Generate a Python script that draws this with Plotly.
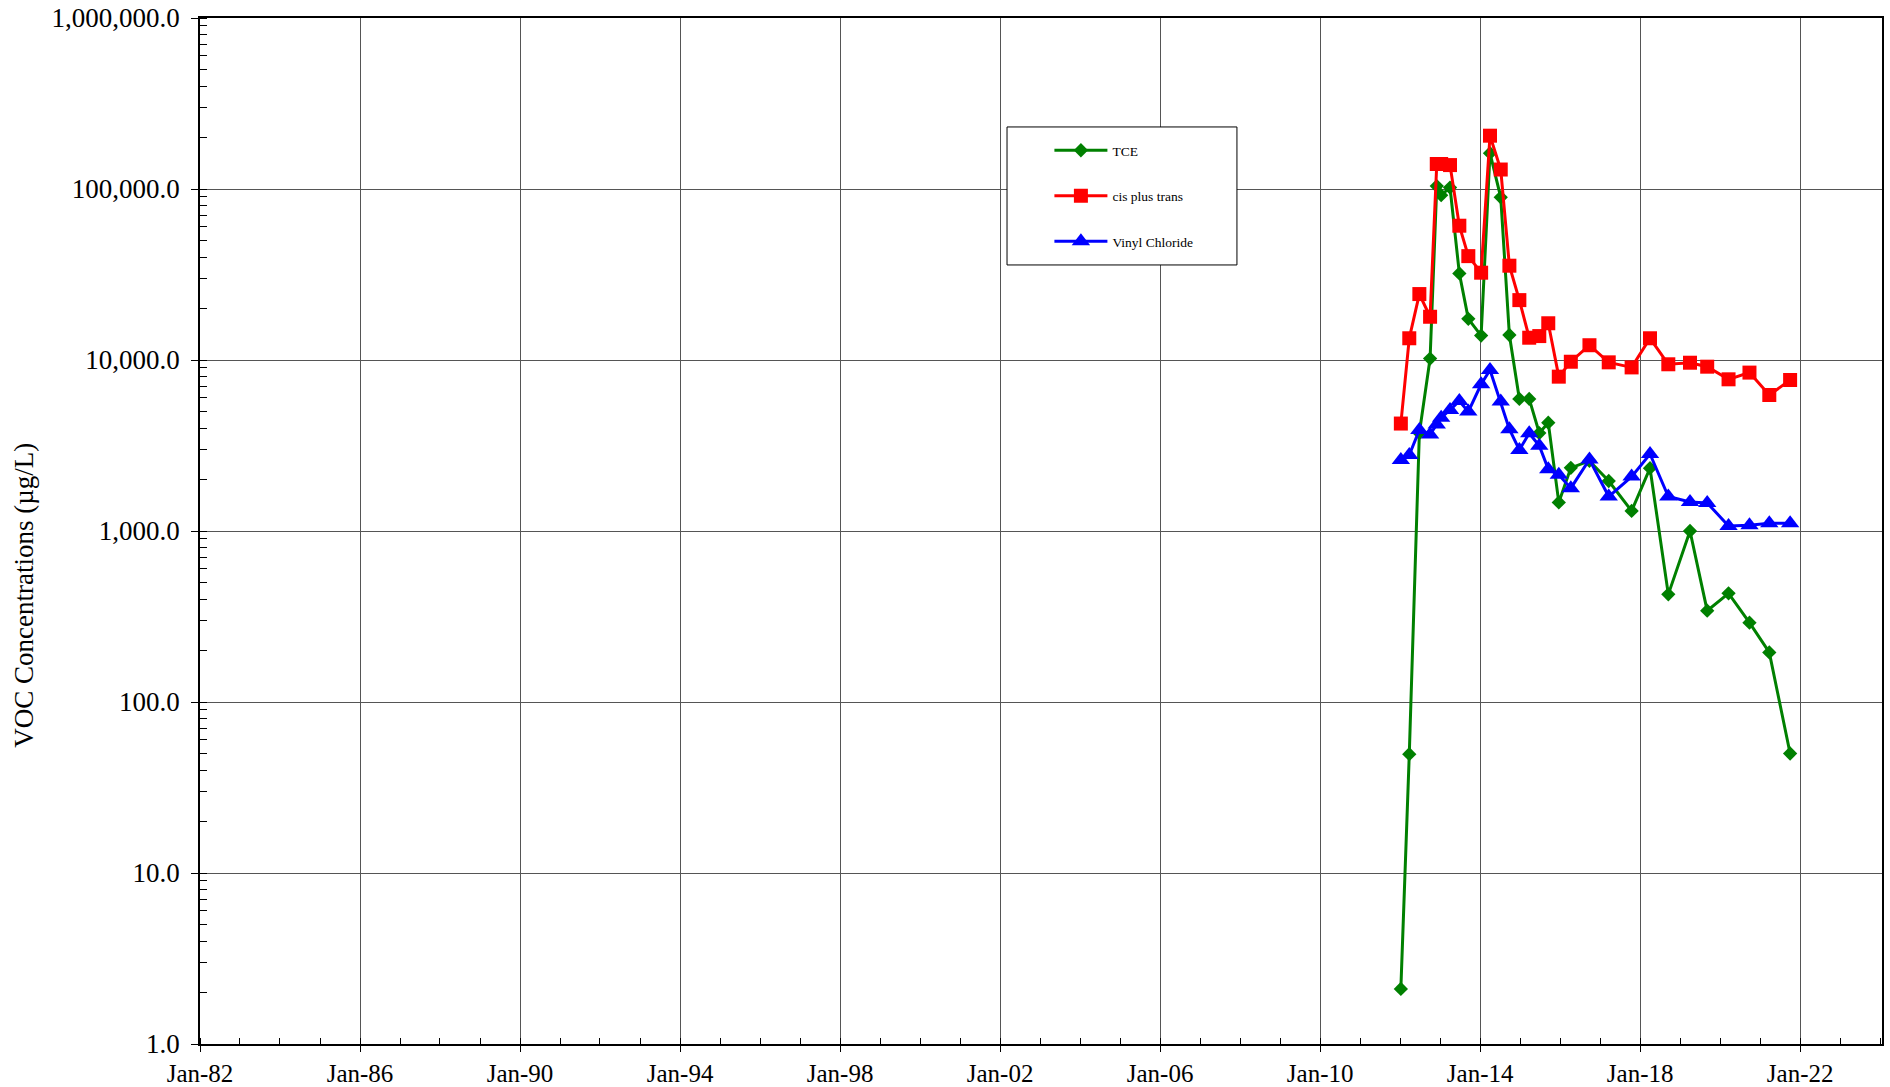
import plotly.graph_objects as go

dates = [
    "2012-01-08", "2012-03-25", "2012-06-25", "2012-10-01", "2012-12-01",
    "2013-01-10", "2013-04-01", "2013-06-25", "2013-09-15", "2014-01-10",
    "2014-04-01", "2014-07-08", "2014-09-25", "2014-12-25", "2015-03-25",
    "2015-06-25", "2015-09-15", "2015-12-20", "2016-04-08", "2016-09-25",
    "2017-03-20", "2017-10-15", "2018-04-01", "2018-09-15", "2019-04-01",
    "2019-09-05", "2020-03-18", "2020-09-25", "2021-03-25", "2021-10-01",
]

tce = [2.1, 49.5, 3740, 10200, 104000, 92000, 102000, 32100, 17400, 13900,
       162000, 89400, 14000, 5920, 5920, 3740, 4300, 1470, 2340, 2570,
       1960, 1310, 2330, 426, 1000, 342, 432, 291, 195, 50]

cis_trans = [4250, 13400, 24300, 17900, 140000, 140000, 138000, 61000, 40500, 32400,
             205000, 130000, 35600, 22400, 13500, 13800, 16400, 7990, 9770, 12200,
             9690, 9050, 13400, 9440, 9640, 9140, 7710, 8440, 6240, 7640]

vinyl = [2600, 2780, 3900, 3670, 4200, 4600, 5100, 5760, 4990, 7210,
         8750, 5710, 3940, 2980, 3730, 3150, 2300, 2130, 1780, 2620,
         1590, 2080, 2820, 1590, 1480, 1460, 1070, 1080, 1110, 1110]

y_ticks = [1, 10, 100, 1000, 10000, 100000, 1000000]

FONT = "Liberation Serif, Times New Roman, serif"

fig = go.Figure()
fig.add_trace(go.Scatter(x=dates, y=tce, name="TCE", mode="lines+markers",
                         legendgroup="a",
                         line=dict(color="#008000", width=3),
                         marker=dict(symbol="diamond", size=11, color="#008000")))
fig.add_trace(go.Scatter(x=dates, y=cis_trans, name="cis plus trans", mode="lines+markers",
                         legendgroup="b",
                         line=dict(color="#ff0000", width=3),
                         marker=dict(symbol="square", size=14, color="#ff0000")))
fig.add_trace(go.Scatter(x=dates, y=vinyl, name="Vinyl Chloride", mode="lines+markers",
                         legendgroup="c",
                         line=dict(color="#0000ff", width=3),
                         marker=dict(symbol="triangle-up", size=16, color="#0000ff")))

# legend frame
fig.add_shape(type="rect", xref="paper", yref="paper",
              x0=0.4798, x1=0.6165, y0=0.7593, y1=0.8938,
              line=dict(color="black", width=1), fillcolor="white", layer="above")

fig.add_annotation(text="VOC Concentrations (µg/L)", xref="paper", yref="paper",
                   x=-0.1046, y=0.437, textangle=-90, showarrow=False,
                   font=dict(family=FONT, size=27, color="black"),
                   xanchor="center", yanchor="middle")

fig.update_layout(
    width=1890, height=1087,
    margin=dict(l=200, r=8, t=18, b=43, autoexpand=False),
    paper_bgcolor="white", plot_bgcolor="white",
    font=dict(family=FONT, color="black"),
    showlegend=True,
    legend=dict(x=0.505, y=0.886, xanchor="left", yanchor="top",
                bgcolor="rgba(0,0,0,0)", borderwidth=0,
                traceorder="grouped", tracegroupgap=25,
                font=dict(family=FONT, size=13.5, color="black"),
                itemwidth=53),
    xaxis=dict(
        type="date", automargin=False,
        range=["1982-01-01", "2024-01-18"],
        tick0="1982-01-01", dtick="M48", tickformat="%b-%y",
        ticks="outside", ticklen=6, tickcolor="black",
        showline=True, linecolor="black", linewidth=1.5, mirror=True,
        showgrid=True, gridcolor="#555555", gridwidth=1,
        tickfont=dict(family=FONT, size=25, color="black"),
        minor=dict(dtick="M12", tick0="1982-01-01", ticks="inside", ticklen=6,
                   tickcolor="black", showgrid=False),
        zeroline=False,
    ),
    yaxis=dict(
        type="log", automargin=False,
        range=[0, 6],
        tickvals=y_ticks,
        tickformat=",.1f",
        ticks="outside", ticklen=7, tickcolor="black",
        ticklabelstandoff=6,
        showline=True, linecolor="black", linewidth=1.5, mirror=True,
        showgrid=True, gridcolor="#555555", gridwidth=1,
        tickfont=dict(family=FONT, size=27, color="black"),
        minor=dict(dtick="D1", ticks="inside", ticklen=7, tickcolor="black",
                   showgrid=False),
        zeroline=False,
    ),
)

fig.write_html("out.html", config={"displayModeBar": False},
               post_script="document.body.style.margin='0';")
